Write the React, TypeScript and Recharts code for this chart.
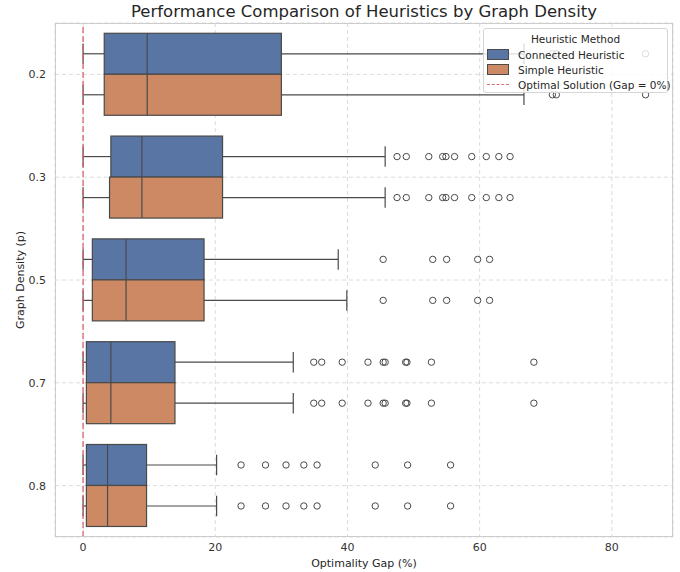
import React from "react";
import {
  ComposedChart,
  Bar,
  XAxis,
  YAxis,
  CartesianGrid,
  ReferenceLine,
} from "recharts";

const densities = ["0.2", "0.3", "0.5", "0.7", "0.8"];
const xTicks = [0, 20, 40, 60, 80];

// Connected Heuristic
const connectedLow = [0, 0, 0, 0, 0];
const connectedQ1 = [3.2, 4.2, 1.4, 0.5, 0.5];
const connectedMedian = [9.7, 8.9, 6.5, 4.2, 3.7];
const connectedQ3 = [30.0, 21.1, 18.3, 13.9, 9.6];
const connectedHigh = [66.7, 45.7, 38.6, 31.8, 20.2];
const connectedOutliers = [
  [71.0, 71.6, 85.1],
  [47.5, 48.9, 52.3, 54.4, 54.9, 56.2, 58.8, 61.0, 62.9, 64.6],
  [45.4, 52.9, 55.0, 59.7, 61.5],
  [34.9, 36.1, 39.2, 43.1, 45.4, 45.7, 48.8, 49.0, 52.7, 68.2],
  [23.9, 27.6, 30.7, 33.4, 35.4, 44.2, 49.1, 55.6],
];

// Simple Heuristic
const simpleLow = [0, 0, 0, 0, 0];
const simpleQ1 = [3.2, 4.0, 1.4, 0.5, 0.5];
const simpleMedian = [9.7, 8.9, 6.5, 4.2, 3.7];
const simpleQ3 = [30.0, 21.1, 18.3, 13.9, 9.6];
const simpleHigh = [66.7, 45.7, 39.9, 31.8, 20.2];
const simpleOutliers = [
  [71.0, 71.6, 85.1],
  [47.5, 48.9, 52.3, 54.4, 54.9, 56.2, 58.8, 61.0, 62.9, 64.6],
  [45.4, 52.9, 55.0, 59.7, 61.5],
  [34.9, 36.1, 39.2, 43.1, 45.4, 45.7, 48.8, 49.0, 52.7, 68.2],
  [23.9, 27.6, 30.7, 33.4, 35.4, 44.2, 49.1, 55.6],
];

const BLUE = "#5875a4";
const ORANGE = "#cc8963";
const EDGE = "#4a4a4a";
const FONT = "'DejaVu Sans', sans-serif";

const data = densities.map((d, i) => ({
  density: d,
  connected: {
    lo: connectedLow[i],
    q1: connectedQ1[i],
    med: connectedMedian[i],
    q3: connectedQ3[i],
    hi: connectedHigh[i],
    out: connectedOutliers[i],
  },
  simple: {
    lo: simpleLow[i],
    q1: simpleQ1[i],
    med: simpleMedian[i],
    q3: simpleQ3[i],
    hi: simpleHigh[i],
    out: simpleOutliers[i],
  },
}));

// bar spans [lo, hi]; everything else is placed on the same linear scale
const makeBox = (key: "connected" | "simple", fill: string) => (props: any) => {
  const { x, y, width, height, payload } = props;
  const s = payload[key];
  const px = (v: number) => x + ((v - s.lo) / (s.hi - s.lo)) * width;
  const cy = y + height / 2;
  const cap = height / 4;
  return (
    <g>
      <line x1={px(s.lo)} x2={px(s.q1)} y1={cy} y2={cy} stroke={EDGE} strokeWidth={1.2} />
      <line x1={px(s.q3)} x2={px(s.hi)} y1={cy} y2={cy} stroke={EDGE} strokeWidth={1.2} />
      <line x1={px(s.lo)} x2={px(s.lo)} y1={cy - cap} y2={cy + cap} stroke={EDGE} strokeWidth={1.2} />
      <line x1={px(s.hi)} x2={px(s.hi)} y1={cy - cap} y2={cy + cap} stroke={EDGE} strokeWidth={1.2} />
      <rect
        x={px(s.q1)}
        y={y}
        width={px(s.q3) - px(s.q1)}
        height={height}
        fill={fill}
        stroke={EDGE}
        strokeWidth={1.2}
      />
      <line x1={px(s.med)} x2={px(s.med)} y1={y} y2={y + height} stroke={EDGE} strokeWidth={1.2} />
      {s.out.map((v: number, j: number) => (
        <circle key={j} cx={px(v)} cy={cy} r={3.2} fill="none" stroke={EDGE} strokeWidth={1} />
      ))}
    </g>
  );
};

function LegendBox() {
  const row = { display: "flex", alignItems: "center", height: 15, whiteSpace: "nowrap" } as const;
  const patch = (c: string) => (
    <span
      style={{
        display: "inline-block",
        width: 20,
        height: 9,
        background: c,
        border: `1px solid ${EDGE}`,
        marginRight: 9,
        flex: "none",
      }}
    />
  );
  return (
    <div
      style={{
        position: "absolute",
        left: 483,
        top: 28,
        width: 185,
        height: 65,
        background: "rgba(255,255,255,0.8)",
        border: "1px solid #d6d6d6",
        borderRadius: 3,
        fontFamily: FONT,
        fontSize: 10.5,
        color: "#262626",
        boxSizing: "border-box",
        padding: "3px 3px",
      }}
    >
      <div style={{ textAlign: "center", height: 15, lineHeight: "15px" }}>Heuristic Method</div>
      <div style={row}>
        {patch(BLUE)}
        Connected Heuristic
      </div>
      <div style={row}>
        {patch(ORANGE)}
        Simple Heuristic
      </div>
      <div style={row}>
        <span
          style={{
            display: "inline-block",
            width: 22,
            borderTop: "1.5px dashed #d9707a",
            marginRight: 9,
            flex: "none",
          }}
        />
        Optimal Solution (Gap = 0%)
      </div>
    </div>
  );
}

export default function App() {
  return (
    <div
      style={{
        position: "absolute",
        left: 0,
        top: 0,
        width: 680,
        height: 572,
        background: "#fff",
        fontFamily: FONT,
      }}
    >
      <div
        style={{
          position: "absolute",
          left: 55,
          width: 618,
          top: 2,
          textAlign: "center",
          fontSize: 16.5,
          color: "#262626",
        }}
      >
        Performance Comparison of Heuristics by Graph Density
      </div>
      <ComposedChart
        width={680}
        height={572}
        data={data}
        layout="vertical"
        margin={{ top: 23, right: 7, bottom: 0, left: 0 }}
        barCategoryGap="10%"
        barGap={0}
      >
        <CartesianGrid stroke="#dcdcdc" strokeDasharray="4 3" />
        <XAxis
          type="number"
          domain={[-4.25, 89.25]}
          ticks={xTicks}
          allowDataOverflow
          axisLine={false}
          tickLine={false}
          tickSize={6}
          tickMargin={0}
          height={35}
          tick={{ fill: "#333", fontSize: 11, fontFamily: FONT }}
          label={{
            value: "Optimality Gap (%)",
            position: "insideBottom",
            offset: 5,
            style: { fill: "#262626", fontSize: 11, fontFamily: FONT },
          }}
        />
        <YAxis
          type="category"
          dataKey="density"
          width={55}
          axisLine={false}
          tickLine={false}
          tickSize={6}
          tickMargin={3}
          tick={{ fill: "#333", fontSize: 11, fontFamily: FONT }}
          label={{
            value: "Graph Density (p)",
            angle: -90,
            position: "insideLeft",
            offset: 20,
            style: { fill: "#262626", fontSize: 11, fontFamily: FONT, textAnchor: "middle" },
          }}
        />
        <Bar
          dataKey={(d: any) => [d.connected.lo, d.connected.hi]}
          name="Connected Heuristic"
          fill={BLUE}
          shape={makeBox("connected", BLUE)}
          isAnimationActive={false}
        />
        <Bar
          dataKey={(d: any) => [d.simple.lo, d.simple.hi]}
          name="Simple Heuristic"
          fill={ORANGE}
          shape={makeBox("simple", ORANGE)}
          isAnimationActive={false}
        />
        <ReferenceLine x={0} stroke="#d9606b" strokeOpacity={0.85} strokeWidth={1.5} strokeDasharray="6 3" />
      </ComposedChart>
      <div
        style={{
          position: "absolute",
          left: 55,
          top: 23,
          width: 618,
          height: 514,
          border: "1.25px solid #cccccc",
          boxSizing: "border-box",
          pointerEvents: "none",
        }}
      />
      <LegendBox />
    </div>
  );
}
